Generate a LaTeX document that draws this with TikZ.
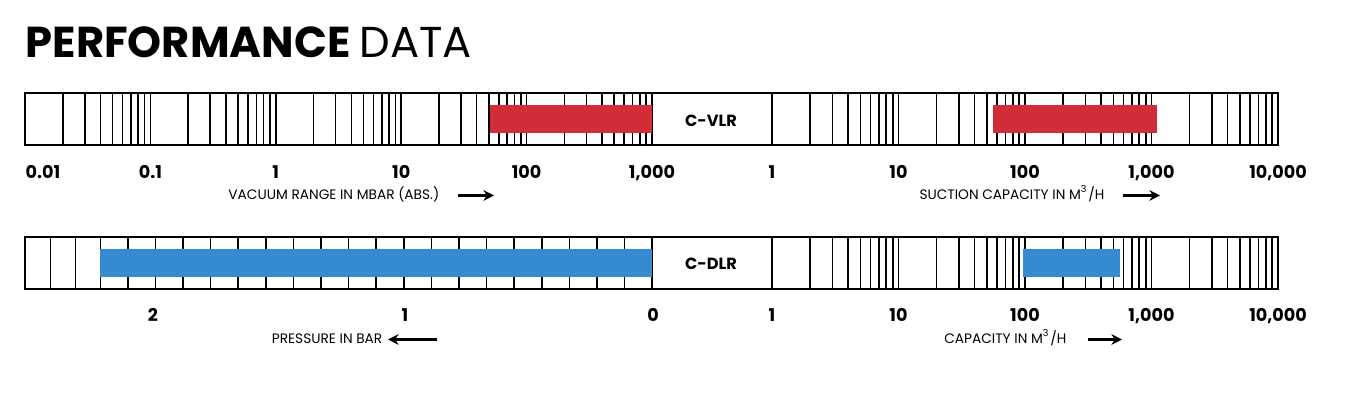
\documentclass[tikz,border=0pt]{standalone}
\usepackage{fontspec}
\setmainfont{Poppins}
\usetikzlibrary{positioning,arrows.meta}
\definecolor{vlrred}{RGB}{209,45,56}
\definecolor{dlrblue}{RGB}{53,138,208}
\tikzset{
  tick/.style={line width=0.45pt},
  num/.style={font=\fontsize{5}{6}\selectfont\bfseries, anchor=base},
  axislabel/.style={font=\fontsize{3.9}{5}\selectfont, anchor=base east, inner sep=0pt},
  tag/.style={font=\fontsize{4.6}{5}\selectfont\bfseries},
  arr/.style={line width=0.6pt, -{Stealth[length=3pt,width=3pt]}}
}
\begin{document}
\begin{tikzpicture}[x=0.01cm, y=-0.01cm]
\useasboundingbox (0,0) rectangle (1354,401);

% title
\node[anchor=base west, inner sep=0pt] (title) at (25,58)
  {\fontsize{12.3}{14}\selectfont\bfseries PERFORMANCE \mdseries DATA};

% upper bar: vacuum decades and suction decades
\foreach \d in {0,...,4}
  \foreach \m in {2,...,10}
    \draw[tick] ({25+(\d+log10(\m))*125.4},93) -- ++(0,52);
\foreach \d in {0,...,3}
  \foreach \m in {2,...,10}
    \draw[tick] ({772+(\d+log10(\m))*126.5},93) -- ++(0,52);
\draw[tick] (772,93) -- (772,145);
\draw[tick] (25,93) rectangle (1278,145);
\fill[vlrred] (490,105) rectangle (652,133);
\fill[vlrred] (993,105) rectangle (1157,133);
\node[tag] (vlr) at (711,121) {C-VLR};

% upper scale labels
\node[num, anchor=base west, inner sep=0pt] (v0) at (25,179) {0.01};
\foreach \v [count=\i] in {0.1,1,10,100}
  \node[num] (v\i) at ({25+\i*125.4},179) {\v};
\node[num] (v5) at (652,179) {1,000};
\foreach \v [count=\i from 0] in {1,10,100,1{,}000,10{,}000}
  \node[num] (s\i) at ({772+\i*126.5},179) {\v};
\node[axislabel] (vcap) at (440,200) {VACUUM RANGE IN MBAR (ABS.)};
\coordinate (vend) at (494,195.5);
\draw[arr] ([xshift=5]vcap.east |- vend) -- (vend);
\node[axislabel] (scap) at (1105,200) {SUCTION CAPACITY IN M\textsuperscript{3}/H};
\coordinate (send) at (1160,195.5);
\draw[arr] ([xshift=5]scap.east |- send) -- (send);

% lower bar: pressure and capacity
\foreach \x in {50.6,75.7,100.3}
  \draw[tick] (\x,237) -- ++(0,52);
\foreach \k in {1,...,20}
  \draw[tick] ({100.3+\k*27.59},237) -- ++(0,52);
\foreach \d in {0,...,3}
  \foreach \m in {2,...,10}
    \draw[tick] ({772+(\d+log10(\m))*126.5},237) -- ++(0,52);
\draw[tick] (772,237) -- (772,289);
\draw[tick] (25,237) rectangle (1278,289);
\fill[dlrblue] (100.3,249) rectangle (652,277);
\fill[dlrblue] (1023,249) rectangle (1120,277);
\node[tag] (dlr) at (711,264) {C-DLR};

% lower scale labels
\foreach \v/\x in {2/153,1/405,0/653}
  \node[num] (p\v) at (\x,322) {\v};
\foreach \v [count=\i from 0] in {1,10,100,1{,}000,10{,}000}
  \node[num] (c\i) at ({772+\i*126.5},322) {\v};
\node[axislabel] (pcap) at (383,344) {PRESSURE IN BAR};
\coordinate (pend) at (388,339.5);
\draw[arr] (437,339.5) -- (pend);
\node[axislabel] (ccap) at (1067,344) {CAPACITY IN M\textsuperscript{3}/H};
\coordinate (cend) at (1122,339.5);
\draw[arr] ([xshift=6]ccap.east |- cend) -- (cend);
\end{tikzpicture}
\end{document}
